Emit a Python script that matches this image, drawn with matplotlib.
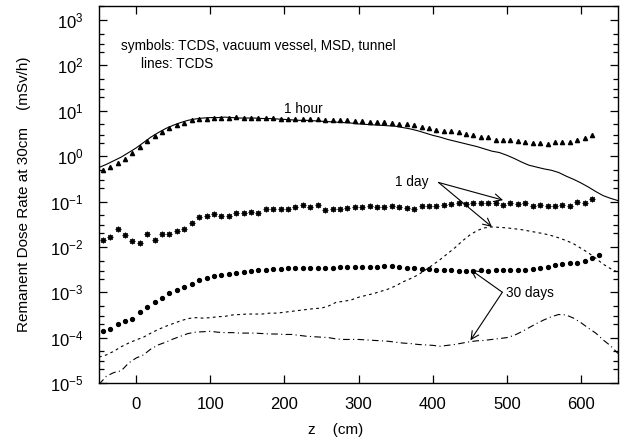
import numpy as np
import matplotlib
matplotlib.use("Agg")
import matplotlib.pyplot as plt
from matplotlib.ticker import LogLocator, NullLocator, FixedLocator

plt.rcParams['font.family'] = ['Liberation Sans', 'DejaVu Sans']
plt.rcParams['mathtext.fontset'] = 'custom'
plt.rcParams['mathtext.rm'] = 'Liberation Sans'

# ---- data (z in cm, values are log10 of dose rate in mSv/h) ----
z_sym = list(range(-45, 626, 10))

hour_sym_log = [-0.30, -0.23, -0.15, -0.06, 0.06, 0.20, 0.33, 0.44, 0.54, 0.62,
                0.69, 0.74, 0.79, 0.82, 0.83, 0.85, 0.85, 0.85, 0.86, 0.85,
                0.85, 0.84, 0.84, 0.84, 0.83, 0.83, 0.83, 0.82, 0.82, 0.81,
                0.80, 0.80, 0.79, 0.79, 0.78, 0.77, 0.76, 0.76, 0.75, 0.73,
                0.72, 0.70, 0.68, 0.64, 0.62, 0.58, 0.55, 0.55, 0.53, 0.48,
                0.46, 0.43, 0.42, 0.36, 0.35, 0.35, 0.33, 0.32, 0.30, 0.29,
                0.27, 0.31, 0.31, 0.31, 0.35, 0.40, 0.47, None]

day_sym_log = [-1.85, -1.78, -1.61, -1.73, -1.87, -1.92, -1.72, -1.85, -1.71, -1.71,
               -1.66, -1.61, -1.48, -1.35, -1.31, -1.28, -1.32, -1.32, -1.26, -1.25,
               -1.24, -1.25, -1.17, -1.17, -1.17, -1.16, -1.12, -1.08, -1.12, -1.07,
               -1.19, -1.17, -1.17, -1.14, -1.13, -1.12, -1.10, -1.13, -1.11, -1.10,
               -1.12, -1.14, -1.16, -1.10, -1.09, -1.10, -1.08, -1.05, -1.04, -1.05,
               -1.04, -1.03, -1.04, -1.04, -1.07, -1.04, -1.05, -1.04, -1.09, -1.08,
               -1.09, -1.09, -1.08, -1.09, -1.02, -1.03, -0.95, None]

month_sym_log = [-3.86, -3.81, -3.70, -3.64, -3.59, -3.44, -3.32, -3.22, -3.12, -3.02,
                 -2.96, -2.88, -2.81, -2.73, -2.68, -2.64, -2.62, -2.60, -2.58, -2.55,
                 -2.53, -2.51, -2.50, -2.49, -2.48, -2.47, -2.47, -2.46, -2.46, -2.46,
                 -2.46, -2.46, -2.44, -2.44, -2.44, -2.44, -2.44, -2.44, -2.43, -2.42,
                 -2.45, -2.46, -2.47, -2.49, -2.49, -2.50, -2.50, -2.52, -2.53, -2.53,
                 -2.53, -2.52, -2.53, -2.52, -2.52, -2.51, -2.50, -2.50, -2.48, -2.47,
                 -2.44, -2.40, -2.38, -2.36, -2.35, -2.31, -2.25, -2.17]

z_line = list(range(-50, 651, 10))

hour_line_log = [-0.25, -0.18, -0.10, -0.02, 0.08, 0.18, 0.30, 0.42, 0.52, 0.61,
                 0.68, 0.74, 0.79, 0.82, 0.84, 0.85, 0.85, 0.86, 0.85, 0.84,
                 0.84, 0.84, 0.83, 0.83, 0.82, 0.81, 0.80, 0.79, 0.79, 0.78,
                 0.77, 0.76, 0.75, 0.74, 0.73, 0.71, 0.70, 0.69, 0.68, 0.67,
                 0.66, 0.63, 0.60, 0.56, 0.51, 0.46, 0.42, 0.37, 0.33, 0.29,
                 0.25, 0.21, 0.16, 0.11, 0.08, 0.02, -0.05, -0.13, -0.20, -0.24,
                 -0.28, -0.31, -0.36, -0.44, -0.51, -0.59, -0.68, -0.78, -0.87, -0.93,
                 -0.98]

day_line_log = [-4.43, -4.38, -4.30, -4.20, -4.12, -4.05, -3.99, -3.90, -3.82, -3.75,
                -3.69, -3.63, -3.58, -3.56, -3.57, -3.56, -3.54, -3.53, -3.50, -3.49,
                -3.48, -3.48, -3.48, -3.46, -3.46, -3.44, -3.42, -3.40, -3.38, -3.36,
                -3.35, -3.30, -3.22, -3.20, -3.17, -3.11, -3.07, -3.03, -2.98, -2.93,
                -2.86, -2.77, -2.70, -2.62, -2.51, -2.40, -2.28, -2.15, -2.02, -1.87,
                -1.74, -1.64, -1.58, -1.56, -1.57, -1.58, -1.60, -1.62, -1.65, -1.68,
                -1.71, -1.75, -1.80, -1.86, -1.93, -2.03, -2.13, -2.25, -2.38, -2.48,
                -2.56]

month_line_log = [-5.03, -4.85, -4.77, -4.73, -4.56, -4.45, -4.38, -4.25, -4.16, -4.10,
                  -4.03, -3.97, -3.91, -3.88, -3.87, -3.86, -3.88, -3.89, -3.89, -3.90,
                  -3.90, -3.90, -3.91, -3.92, -3.92, -3.93, -3.93, -3.95, -3.97, -3.98,
                  -3.99, -4.00, -4.03, -4.04, -4.04, -4.04, -4.05, -4.06, -4.07, -4.08,
                  -4.10, -4.12, -4.13, -4.15, -4.16, -4.17, -4.19, -4.17, -4.15, -4.12,
                  -4.09, -4.07, -4.06, -4.04, -4.02, -4.00, -3.95, -3.87, -3.78, -3.69,
                  -3.61, -3.54, -3.49, -3.50, -3.57, -3.67, -3.79, -3.90, -4.05, -4.18,
                  -4.35]

x_ticks = [0, 100, 200, 300, 400, 500, 600]


def to_val(logs):
    return np.array([np.nan if v is None else 10.0 ** v for v in logs])


W, H = 626, 443
fig = plt.figure(figsize=(W / 100, H / 100), dpi=100)
ax = fig.add_axes([99 / W, 1 - 383 / H, (618 - 99) / W, (383 - 6) / H])

ax.set_yscale('log')
ax.set_xlim(-50, 650)
ax.set_ylim(1e-5, 10 ** 3.31)

k = 'black'
# lines (TCDS)
ax.plot(z_line, to_val(hour_line_log), color=k, lw=0.8)
ax.plot(z_line, to_val(day_line_log), color=k, lw=0.8, ls=(0, (2.5, 3)))
ax.plot(z_line, to_val(month_line_log), color=k, lw=0.8, ls=(0, (6, 3, 1, 3)))

# symbols
ax.plot(z_sym, to_val(hour_sym_log), ls='none', marker='^', ms=3.0, color=k)
ax.plot(z_sym, to_val(day_sym_log), ls='none', marker='s', ms=3.0, mfc='none',
        mec=k, mew=0.5)
ax.plot(z_sym, to_val(day_sym_log), ls='none', marker='+', ms=4.0, color=k, mew=0.9)
ax.plot(z_sym, to_val(day_sym_log), ls='none', marker='x', ms=3.0, color=k, mew=0.9)
ax.plot(z_sym, to_val(month_sym_log), ls='none', marker='o', ms=2.8, color=k)

# ticks
ax.xaxis.set_major_locator(FixedLocator(x_ticks))
ax.xaxis.set_minor_locator(NullLocator())
ax.yaxis.set_major_locator(LogLocator(base=10, numticks=20))
ax.yaxis.set_minor_locator(LogLocator(base=10, subs=(2, 3, 5), numticks=20))
ax.tick_params(which='both', direction='in', top=True, right=True, width=0.9)
ax.tick_params(which='major', length=6, labelsize=12, pad=11)
ax.tick_params(which='minor', length=3.5)
ax.tick_params(axis='x', which='major', pad=10)
for s in ax.spines.values():
    s.set_linewidth(1.0)

# annotations
ax.text(-20, 10 ** 2.42, 'symbols: TCDS, vacuum vessel, MSD, tunnel', fontsize=9.8,
        va='center', ha='left')
ax.text(7, 10 ** 2.03, 'lines: TCDS', fontsize=9.8, va='center', ha='left')
ax.text(225, 10 ** 1.05, '1 hour', fontsize=9.8, va='center', ha='center')

arrow = dict(arrowstyle='->', color=k, lw=0.8, shrinkA=0, shrinkB=0,
             mutation_scale=14)
ax.text(395, 10 ** -0.56, '1 day', fontsize=9.8, va='center', ha='right')
ax.annotate('', xy=(495, 10 ** -0.97), xytext=(408, 10 ** -0.58), arrowprops=arrow)
ax.annotate('', xy=(480, 10 ** -1.56), xytext=(408, 10 ** -0.58), arrowprops=arrow)
ax.text(499, 10 ** -3.02, '30 days', fontsize=9.8, va='center', ha='left')
ax.annotate('', xy=(451, 10 ** -2.50), xytext=(494, 10 ** -3.0), arrowprops=arrow)
ax.annotate('', xy=(451, 10 ** -4.06), xytext=(494, 10 ** -3.0), arrowprops=arrow)

ax.set_ylabel('Remanent Dose Rate at 30cm    (mSv/h)', fontsize=11, labelpad=14)
fig.text(336 / W, 1 - 430 / H, 'z    (cm)', fontsize=11, ha='center', va='center')

fig.savefig('out.png', dpi=100)
